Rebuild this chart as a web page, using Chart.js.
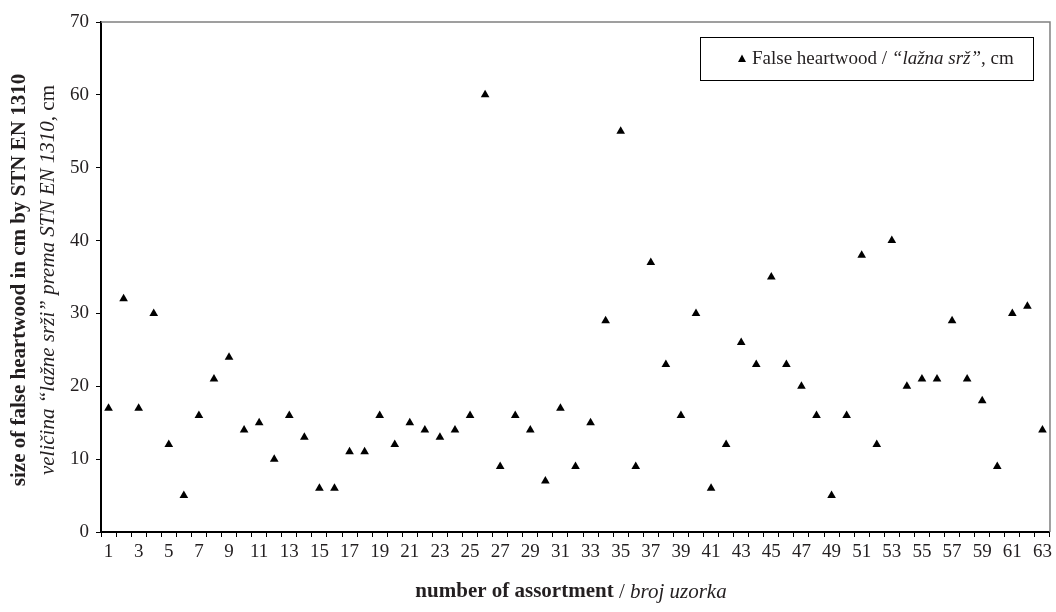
<!DOCTYPE html>
<html>
<head>
<meta charset="utf-8">
<script src="https://cdn.jsdelivr.net/npm/chart.js@4"></script>
<style>
  html, body { margin: 0; padding: 0; background: #fff; }
  #wrap { width: 1056px; height: 612px; position: relative; }
</style>
</head>
<body>
<div id="wrap"><canvas id="c" width="1056" height="612"></canvas></div>
<script>
// ---- data ----
const categories = [];
for (let i = 1; i <= 63; i++) categories.push(String(i));
const falseHeartwood = [
  17, 32, 17, 30, 12, 5, 16, 21, 24, 14,
  15, 10, 16, 13, 6, 6, 11, 11, 16, 12,
  15, 14, 13, 14, 16, 60, 9, 16, 14, 7,
  17, 9, 15, 29, 55, 9, 37, 23, 16, 30,
  6, 12, 26, 23, 35, 23, 20, 16, 5, 16,
  38, 12, 40, 20, 21, 21, 29, 21, 18, 9,
  30, 31, 14
];
const yTicks = [0, 10, 20, 30, 40, 50, 60, 70];
const seriesName = ['False heartwood / ', '“lažna srž”', ', cm'];
const yTitleBold = 'size of false heartwood in cm by STN EN 1310';
const yTitleItalic = ['veličina “lažne srži” prema STN EN 1310,', ' cm'];
const xTitle = ['number of assortment', ' / ', 'broj uzorka'];

const FONT = "'Liberation Serif', 'Times New Roman', serif";
const TXT = '#231f20';

function drawRuns(ctx, runs, x, y, align) {
  let total = 0;
  runs.forEach(r => { ctx.font = r.font; total += ctx.measureText(r.text).width; });
  let cx = align === 'center' ? x - total / 2 : x;
  ctx.textBaseline = 'middle';
  ctx.textAlign = 'left';
  runs.forEach(r => {
    ctx.font = r.font;
    ctx.fillText(r.text, cx, y);
    cx += ctx.measureText(r.text).width;
  });
}

const decor = {
  id: 'decor',
  afterDraw(chart) {
    const ctx = chart.ctx;
    const a = chart.chartArea;
    ctx.save();
    // top & right border
    ctx.strokeStyle = '#808080';
    ctx.lineWidth = 1.5;
    ctx.beginPath();
    ctx.moveTo(a.left, a.top);
    ctx.lineTo(a.right, a.top);
    ctx.lineTo(a.right, a.bottom);
    ctx.stroke();
    ctx.fillStyle = TXT;
    // y title
    ctx.save();
    ctx.translate(20, 280);
    ctx.rotate(-Math.PI / 2);
    drawRuns(ctx, [{ text: yTitleBold, font: 'bold 21px ' + FONT }], 0, 0, 'center');
    ctx.restore();
    ctx.save();
    ctx.translate(48, 280);
    ctx.rotate(-Math.PI / 2);
    drawRuns(ctx, [
      { text: yTitleItalic[0], font: 'italic 21px ' + FONT },
      { text: yTitleItalic[1], font: '21px ' + FONT }
    ], 0, 0, 'center');
    ctx.restore();
    // x title
    drawRuns(ctx, [
      { text: xTitle[0], font: 'bold 21px ' + FONT },
      { text: xTitle[1], font: '21px ' + FONT },
      { text: xTitle[2], font: 'italic 21px ' + FONT }
    ], 571, 592, 'center');
    // legend
    ctx.strokeStyle = '#000';
    ctx.lineWidth = 1;
    ctx.strokeRect(700.5, 37.5, 333, 43);
    ctx.beginPath();
    ctx.moveTo(742, 54.5);
    ctx.lineTo(746, 62);
    ctx.lineTo(738, 62);
    ctx.closePath();
    ctx.fillStyle = '#000';
    ctx.fill();
    ctx.fillStyle = TXT;
    drawRuns(ctx, [
      { text: seriesName[0], font: '19px ' + FONT },
      { text: seriesName[1], font: 'italic 19px ' + FONT },
      { text: seriesName[2], font: '19px ' + FONT }
    ], 752, 59, 'left');
    ctx.restore();
  }
};

new Chart(document.getElementById('c'), {
  type: 'line',
  data: {
    labels: categories,
    datasets: [{
      label: seriesName.join(''),
      data: falseHeartwood,
      showLine: false,
      pointStyle: 'triangle',
      pointRadius: 5,
      pointHoverRadius: 5,
      backgroundColor: '#000',
      borderColor: '#000',
      pointBorderWidth: 0
    }]
  },
  options: {
    responsive: false,
    animation: false,
    events: [],
    layout: { padding: { top: 22, right: 6, left: 0, bottom: 0 } },
    plugins: { legend: { display: false }, tooltip: { enabled: false } },
    scales: {
      x: {
        type: 'category',
        offset: true,
        grid: { offset: true, drawOnChartArea: false, drawTicks: true, tickLength: 5, color: '#000', tickWidth: 1 },
        border: { color: '#000', width: 2 },
        ticks: {
          autoSkip: false, maxRotation: 0, minRotation: 0, padding: 4,
          color: TXT, font: { family: FONT, size: 19 },
          callback: function (v, i) { return i % 2 === 0 ? categories[i] : ''; }
        },
        afterFit(s) { s.height = 80; }
      },
      y: {
        min: 0, max: 70,
        afterBuildTicks(s) { s.ticks = yTicks.map(v => ({ value: v })); },
        grid: { drawOnChartArea: false, drawTicks: true, tickLength: 5, color: '#000' },
        border: { color: '#000', width: 2 },
        ticks: { padding: 7, color: TXT, font: { family: FONT, size: 19 } },
        afterFit(s) { s.width = 101; }
      }
    }
  },
  plugins: [decor]
});
</script>
</body>
</html>
